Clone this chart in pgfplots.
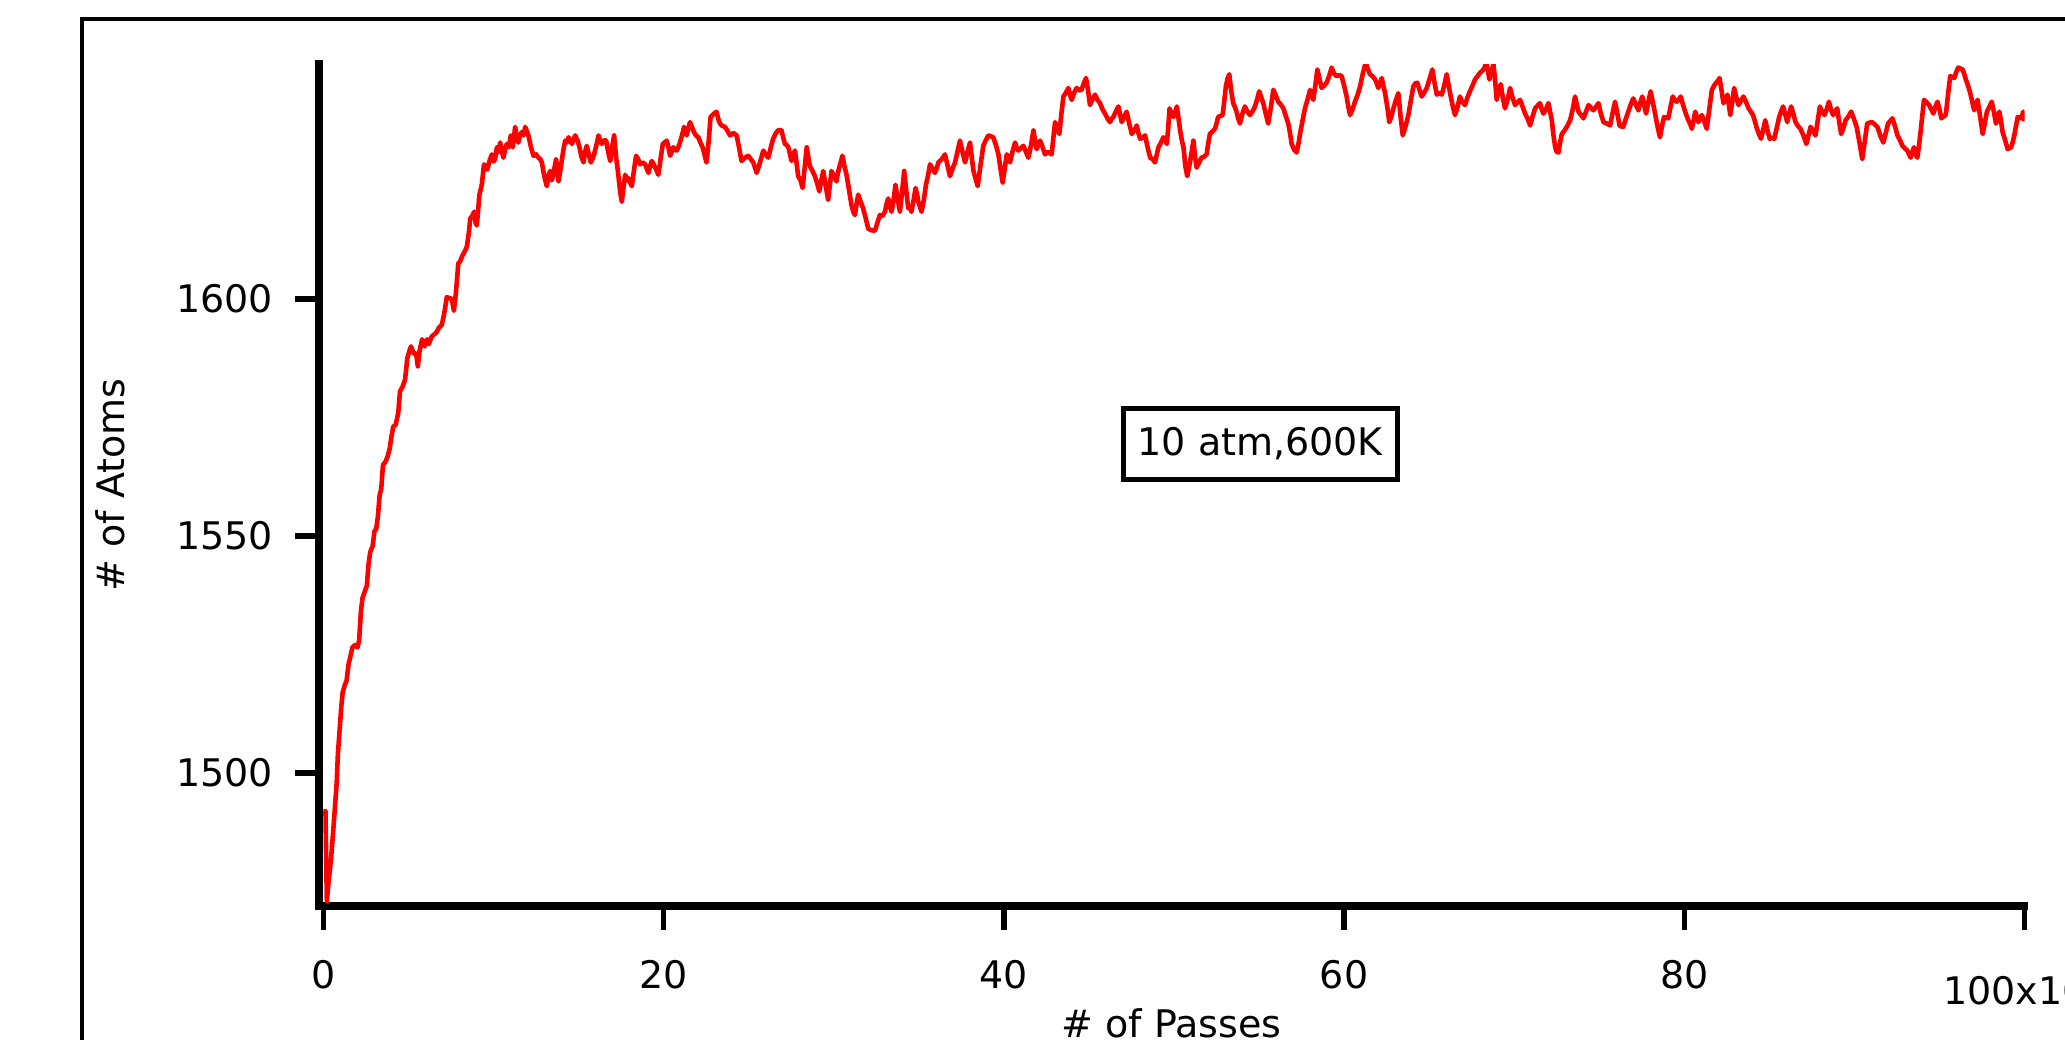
\documentclass[border=0pt]{standalone}
\usepackage{pgfplots}
\pgfplotsset{compat=1.18}
\usepackage{fontspec}
\setmainfont{DejaVu Sans}
\begin{document}
\fontsize{9.5}{11.4}\selectfont
\begin{tikzpicture}
\draw[line width=1pt] (20.43pt,255pt) rectangle (600pt,-40pt);
\begin{axis}[
  at={(79.75pt,33.28pt)}, anchor=south west,
  scale only axis, width=426.375pt, height=210.4pt,
  xmin=-0.26, xmax=100, ymin=1472, ymax=1649.5,
  axis x line*=bottom, axis y line*=left,
  axis line style={-, line width=1.9pt, line cap=rect, black},
  tick align=outside, major tick length=6pt,
  tick style={line width=1.4pt, black},
  xtick={0,20,40,60,80,100},
  xticklabels={0,20,40,60,80,{\raisebox{-4pt}[6.93pt][0pt]{100x10\textsuperscript{3}}}},
  ytick={1500,1550,1600},
  minor tick num=0,
  /pgf/number format/assume math mode=true,
  /pgf/number format/1000 sep={},
  xticklabel shift=4.3pt, yticklabel shift=2.1pt,
  xlabel={\# of Passes}, ylabel={\# of Atoms},
  xlabel style={at={(axis description cs:0.5,0)}, anchor=base, yshift=-33pt},
  ylabel style={at={(axis description cs:-0.1225,0.5)}, anchor=center},
  clip=true,
]
\addplot[red, line width=1.15pt, line join=round, mark=none] table[row sep=\\] {
x y\\
0 1492\\ 0.12 1492\\ 0.2 1473\\ 0.3 1477\\ 0.45 1482\\ 0.6 1489\\ 0.7 1494\\ 0.78 1498\\ 0.85 1504\\ 0.95 1509\\
1.05 1514\\ 1.13 1517\\ 1.25 1518.5\\ 1.36 1519.5\\ 1.48 1523\\ 1.58 1524.5\\ 1.7 1526.5\\ 1.85 1527\\ 2.0 1526.5\\ 2.1 1528\\
2.2 1534\\ 2.3 1537\\ 2.45 1538.5\\ 2.55 1539.5\\ 2.65 1544\\ 2.75 1546.6\\ 2.9 1548\\ 3.0 1551\\ 3.1 1551.5\\ 3.2 1554\\
3.3 1558.5\\ 3.4 1560\\ 3.5 1565\\ 3.62 1565.5\\ 3.75 1566.5\\ 3.9 1568.5\\ 4.0 1571\\ 4.1 1573\\ 4.25 1573.5\\ 4.4 1576\\
4.5 1580.5\\ 4.65 1581.5\\ 4.8 1583\\ 4.93 1587.5\\ 5.05 1589\\ 5.15 1590\\ 5.3 1588.5\\ 5.45 1588.5\\ 5.55 1585.8\\ 5.65 1589\\
5.8 1591.5\\ 5.95 1590\\ 6.1 1591.5\\ 6.2 1590.5\\ 6.35 1592\\ 6.5 1592.5\\ 6.65 1593\\ 6.8 1594\\ 6.95 1594.5\\ 7.05 1596\\
7.15 1598\\ 7.25 1600.4\\ 7.4 1600.2\\ 7.55 1600\\ 7.67 1597.5\\ 7.78 1601\\ 7.93 1607.5\\ 8.05 1608\\ 8.15 1609\\ 8.3 1610\\
8.43 1611\\ 8.55 1614\\ 8.63 1617\\ 8.75 1617.5\\ 8.86 1618.4\\ 8.95 1616\\ 9.02 1615.5\\ 9.1 1619\\ 9.17 1622\\ 9.31 1624.1\\
9.44 1628.4\\ 9.54 1627.5\\ 9.64 1627.3\\ 9.75 1629\\ 9.9 1630.5\\ 10.0 1629\\ 10.09 1629.5\\ 10.2 1632\\ 10.3 1631\\ 10.39 1633\\
10.5 1631\\ 10.58 1629.8\\ 10.68 1631.5\\ 10.78 1632.7\\ 10.9 1632\\ 11.01 1634.5\\ 11.13 1632\\ 11.2 1634\\ 11.27 1636.3\\ 11.37 1634\\
11.46 1633\\ 11.56 1634.5\\ 11.66 1635.2\\ 11.76 1634.5\\ 11.86 1636.3\\ 11.95 1635.5\\ 12.05 1634.5\\ 12.2 1632\\ 12.35 1630.2\\ 12.5 1630.5\\
12.64 1629.8\\ 12.75 1629.5\\ 12.84 1628.8\\ 12.95 1626.5\\ 13.03 1625.2\\ 13.13 1623.8\\ 13.23 1626\\ 13.33 1627\\ 13.42 1625\\ 13.52 1626.2\\
13.6 1628\\ 13.68 1629.5\\ 13.75 1627\\ 13.82 1624.8\\ 13.92 1627\\ 14.01 1629.1\\ 14.11 1631.5\\ 14.21 1633.4\\ 14.31 1633\\ 14.41 1634.1\\
14.5 1633.5\\ 14.6 1632.7\\ 14.7 1633.5\\ 14.8 1634.5\\ 14.93 1633.5\\ 15.05 1632\\ 15.17 1630\\ 15.29 1628.8\\ 15.38 1631\\ 15.48 1632.3\\
15.6 1630.5\\ 15.72 1628.8\\ 15.81 1629.5\\ 15.91 1630.5\\ 16.05 1632.5\\ 16.17 1634.5\\ 16.27 1633.5\\ 16.36 1632.7\\ 16.5 1633.5\\ 16.62 1633.4\\
16.74 1631\\ 16.86 1629.1\\ 16.97 1632\\ 17.09 1634.5\\ 17.2 1630\\ 17.31 1627\\ 17.44 1622.7\\ 17.54 1620.5\\ 17.64 1623.5\\ 17.74 1626.2\\
17.84 1625\\ 17.93 1625.5\\ 18.03 1624.5\\ 18.13 1623.8\\ 18.25 1627\\ 18.38 1630.2\\ 18.5 1629.5\\ 18.62 1628.4\\ 18.77 1628.8\\ 18.91 1628.4\\
19.01 1627.5\\ 19.11 1626.6\\ 19.2 1628\\ 19.3 1629.1\\ 19.4 1628.5\\ 19.5 1627.7\\ 19.6 1627\\ 19.69 1626.2\\ 19.82 1629.5\\ 19.95 1632.7\\
20.06 1633\\ 20.18 1633.4\\ 20.28 1632\\ 20.38 1630.2\\ 20.47 1631\\ 20.57 1632\\ 20.67 1631.5\\ 20.77 1631.3\\ 20.86 1632\\ 20.96 1633\\
21.08 1634.5\\ 21.2 1636.3\\ 21.28 1635.5\\ 21.35 1634.5\\ 21.45 1636\\ 21.55 1637.3\\ 21.66 1636.3\\ 21.78 1635.2\\ 21.9 1634.5\\ 22.04 1634.1\\
22.16 1633\\ 22.29 1632\\ 22.4 1630.5\\ 22.52 1628.8\\ 22.64 1633\\ 22.76 1638.4\\ 22.93 1639\\ 23.11 1639.5\\ 23.21 1638\\ 23.31 1637\\
23.45 1636.5\\ 23.6 1636.3\\ 23.75 1635.5\\ 23.9 1634.5\\ 24.1 1635\\ 24.29 1634.5\\ 24.43 1632\\ 24.58 1629.1\\ 24.78 1629.8\\ 24.98 1630.2\\
25.12 1629.5\\ 25.27 1628.8\\ 25.47 1626.6\\ 25.6 1628\\ 25.86 1631.3\\ 26.0 1630.5\\ 26.15 1629.8\\ 26.3 1632\\ 26.44 1633.8\\ 26.6 1635\\
26.74 1635.6\\ 26.93 1635.6\\ 27.03 1634\\ 27.13 1632.7\\ 27.23 1632.5\\ 27.33 1632\\ 27.43 1630.5\\ 27.52 1629.1\\ 27.62 1630.5\\ 27.72 1631.3\\
27.82 1628.5\\ 27.91 1625.9\\ 28.05 1625\\ 28.17 1623.4\\ 28.3 1628\\ 28.41 1632\\ 28.5 1630\\ 28.6 1628\\ 28.75 1627\\ 28.89 1625.9\\
29.02 1624.5\\ 29.15 1622.7\\ 29.27 1625\\ 29.38 1627\\ 29.52 1624\\ 29.67 1620.9\\ 29.77 1624\\ 29.87 1627\\ 30.0 1626\\ 30.16 1624.8\\
30.24 1626.5\\ 30.32 1627.7\\ 30.42 1629\\ 30.51 1630.2\\ 30.63 1628\\ 30.75 1626.2\\ 30.9 1623\\ 31.04 1619.8\\ 31.14 1618.5\\ 31.24 1617.7\\
31.34 1620\\ 31.44 1622\\ 31.58 1620.5\\ 31.73 1619.1\\ 31.88 1617\\ 32.03 1614.8\\ 32.2 1614.5\\ 32.42 1614.4\\ 32.56 1616\\ 32.71 1617.7\\
32.86 1617.5\\ 33.01 1618.4\\ 33.1 1620\\ 33.2 1621.2\\ 33.3 1619.5\\ 33.4 1618.4\\ 33.52 1621\\ 33.63 1624.1\\ 33.76 1621\\ 33.89 1618.4\\
34.0 1622\\ 34.14 1627\\ 34.26 1623\\ 34.38 1619.1\\ 34.47 1619.5\\ 34.57 1618.4\\ 34.7 1621\\ 34.81 1623.4\\ 34.9 1622\\ 34.97 1620.5\\
35.06 1619.5\\ 35.16 1618.4\\ 35.3 1621\\ 35.42 1624.1\\ 35.54 1626\\ 35.66 1628.4\\ 35.8 1627.5\\ 35.95 1626.6\\ 36.05 1627.5\\ 36.15 1628.8\\
36.35 1629.5\\ 36.54 1630.5\\ 36.7 1628\\ 36.83 1625.9\\ 36.98 1627.5\\ 37.13 1628.8\\ 37.27 1631\\ 37.42 1633.4\\ 37.57 1631\\ 37.72 1628.8\\
37.86 1631\\ 38.01 1633\\ 38.11 1630\\ 38.21 1627\\ 38.33 1625.5\\ 38.46 1623.8\\ 38.62 1628\\ 38.79 1632.3\\ 38.94 1633.5\\ 39.09 1634.5\\
39.24 1634.3\\ 39.38 1634.1\\ 39.53 1632.5\\ 39.68 1630.5\\ 39.8 1627.5\\ 39.93 1624.5\\ 40.05 1627.5\\ 40.17 1630.5\\ 40.27 1629.5\\ 40.36 1628.8\\
40.5 1631\\ 40.66 1633\\ 40.75 1632\\ 40.85 1631.3\\ 41.0 1631.8\\ 41.15 1632.3\\ 41.3 1631\\ 41.44 1629.8\\ 41.6 1632.5\\ 41.74 1635.6\\
41.83 1633.5\\ 41.93 1631.6\\ 42.03 1632.5\\ 42.13 1633.4\\ 42.28 1632\\ 42.42 1630.5\\ 42.6 1631\\ 42.81 1630.5\\ 42.91 1634\\ 43.01 1637.3\\
43.14 1636\\ 43.26 1634.8\\ 43.38 1639\\ 43.5 1642.7\\ 43.65 1643.5\\ 43.79 1644.5\\ 43.89 1643\\ 43.99 1642\\ 44.13 1643.5\\ 44.28 1644.5\\
44.43 1644\\ 44.57 1644.1\\ 44.7 1645.5\\ 44.83 1646.6\\ 44.95 1644\\ 45.06 1640.9\\ 45.2 1642\\ 45.36 1643.1\\ 45.5 1642\\ 45.65 1641.3\\
45.8 1640\\ 45.95 1639.1\\ 46.1 1638\\ 46.24 1637.3\\ 46.34 1638\\ 46.44 1638.4\\ 46.58 1639.5\\ 46.73 1640.6\\ 46.83 1639\\ 46.93 1637.3\\
47.08 1638.5\\ 47.22 1639.5\\ 47.37 1637\\ 47.52 1634.8\\ 47.66 1635.5\\ 47.81 1636.6\\ 47.91 1635\\ 48.01 1633.8\\ 48.15 1634\\ 48.3 1634.5\\
48.45 1632\\ 48.6 1629.8\\ 48.75 1629.5\\ 48.89 1628.8\\ 48.99 1630.5\\ 49.09 1632\\ 49.24 1633\\ 49.38 1634.1\\ 49.48 1633.5\\ 49.58 1632.7\\
49.66 1636\\ 49.74 1640.2\\ 49.86 1639\\ 49.97 1638.4\\ 50.07 1639.5\\ 50.17 1640.6\\ 50.27 1638\\ 50.36 1635.6\\ 50.46 1633.5\\ 50.56 1632\\
50.67 1628\\ 50.78 1625.9\\ 50.95 1629\\ 51.04 1631\\ 51.14 1633.4\\ 51.24 1630\\ 51.33 1627.7\\ 51.48 1628.8\\ 51.62 1629.8\\ 51.77 1630\\
51.92 1630.5\\ 52.0 1632.5\\ 52.11 1634.8\\ 52.26 1635.3\\ 52.41 1635.9\\ 52.5 1637\\ 52.6 1638.4\\ 52.73 1638.6\\ 52.86 1638.8\\ 52.95 1641.5\\
53.05 1644.8\\ 53.15 1646.5\\ 53.25 1647.4\\ 53.36 1644\\ 53.48 1641.3\\ 53.58 1640.5\\ 53.68 1639.5\\ 53.78 1638\\ 53.88 1637\\ 54.02 1639\\
54.17 1640.6\\ 54.32 1639.5\\ 54.47 1638.8\\ 54.61 1639.5\\ 54.76 1640.6\\ 54.88 1642\\ 55.01 1643.8\\ 55.13 1642.5\\ 55.25 1641.3\\ 55.4 1639\\
55.54 1637\\ 55.7 1640.5\\ 55.84 1644.1\\ 55.98 1643\\ 56.13 1641.6\\ 56.28 1641\\ 56.43 1640.2\\ 56.58 1638.5\\ 56.72 1637\\ 56.82 1635\\
56.92 1632.7\\ 57.06 1631.5\\ 57.21 1630.9\\ 57.33 1633\\ 57.45 1635.6\\ 57.58 1638\\ 57.7 1640.2\\ 57.85 1642\\ 58.0 1644.1\\ 58.1 1643\\
58.19 1642\\ 58.31 1645\\ 58.43 1648.4\\ 58.55 1646.5\\ 58.68 1644.5\\ 58.83 1645\\ 58.97 1645.6\\ 59.12 1647\\ 59.27 1648.8\\ 59.41 1647.5\\
59.56 1647\\ 59.71 1647.2\\ 59.86 1647\\ 60.0 1645\\ 60.15 1642.7\\ 60.25 1640.5\\ 60.35 1638.8\\ 60.5 1640\\ 60.64 1641.6\\ 60.79 1643\\
60.94 1644.8\\ 61.1 1647.5\\ 61.27 1649.9\\ 61.4 1648.5\\ 61.52 1647.4\\ 61.67 1647\\ 61.82 1646.3\\ 61.92 1645.5\\ 62.01 1644.5\\ 62.11 1645.5\\
62.21 1646.6\\ 62.31 1645\\ 62.41 1643.4\\ 62.54 1640.5\\ 62.66 1637.3\\ 62.78 1638.5\\ 62.9 1640.2\\ 63.05 1642\\ 63.19 1643.4\\ 63.32 1638.5\\
63.45 1634.5\\ 63.62 1636.5\\ 63.78 1638.8\\ 63.93 1642\\ 64.07 1644.8\\ 64.19 1645.5\\ 64.31 1645.6\\ 64.44 1644\\ 64.56 1642.7\\ 64.71 1643.5\\
64.86 1644.5\\ 65.03 1646.5\\ 65.19 1648.4\\ 65.32 1645.5\\ 65.45 1643.1\\ 65.6 1643.5\\ 65.74 1643.1\\ 65.89 1645\\ 66.03 1647.4\\ 66.15 1645\\
66.27 1642.7\\ 66.4 1640.5\\ 66.52 1638.8\\ 66.67 1640.5\\ 66.81 1642.7\\ 66.96 1641.5\\ 67.11 1640.9\\ 67.25 1642.5\\ 67.4 1643.8\\ 67.55 1645\\
67.7 1646.3\\ 67.85 1647\\ 67.99 1647.7\\ 68.09 1648\\ 68.19 1648.4\\ 68.28 1649\\ 68.38 1649.9\\ 68.46 1648\\ 68.54 1646.3\\ 68.66 1648\\
68.78 1649.5\\ 68.88 1646\\ 68.97 1642\\ 69.09 1644\\ 69.21 1645.3\\ 69.33 1642.5\\ 69.46 1640.2\\ 69.61 1642\\ 69.76 1644.5\\ 69.9 1642.5\\
70.05 1640.9\\ 70.2 1641.5\\ 70.35 1642\\ 70.5 1640.5\\ 70.64 1639.1\\ 70.79 1638\\ 70.94 1636.6\\ 71.08 1638.5\\ 71.23 1640.2\\ 71.38 1640.8\\
71.52 1641.3\\ 71.62 1640\\ 71.72 1639.1\\ 71.87 1640\\ 72.01 1641.3\\ 72.11 1639.5\\ 72.21 1637.7\\ 72.31 1634.5\\ 72.41 1632\\ 72.5 1631\\
72.6 1630.9\\ 72.7 1633\\ 72.8 1634.8\\ 72.95 1635.5\\ 73.09 1636.3\\ 73.19 1637\\ 73.29 1637.7\\ 73.44 1640\\ 73.58 1642.7\\ 73.68 1641\\
73.78 1639.5\\ 73.93 1638.8\\ 74.07 1638.1\\ 74.22 1639.5\\ 74.37 1640.9\\ 74.52 1640.3\\ 74.66 1639.8\\ 74.81 1640.5\\ 74.95 1641.3\\ 75.1 1639\\
75.25 1637.3\\ 75.45 1637\\ 75.64 1636.6\\ 75.8 1639.5\\ 75.93 1641.6\\ 76.07 1639\\ 76.2 1636.5\\ 76.41 1636.3\\ 76.56 1638\\ 76.71 1639.5\\
76.85 1641\\ 77.0 1642.3\\ 77.15 1641\\ 77.3 1639.8\\ 77.42 1641.5\\ 77.53 1642.7\\ 77.64 1641\\ 77.75 1639.1\\ 77.88 1641.5\\ 78.02 1643.8\\
78.15 1641.5\\ 78.28 1639.1\\ 78.42 1636.5\\ 78.57 1634.1\\ 78.69 1636.5\\ 78.81 1638.4\\ 78.94 1638.2\\ 79.06 1638.1\\ 79.19 1640.5\\ 79.32 1642.7\\
79.43 1642\\ 79.55 1641.6\\ 79.67 1642\\ 79.79 1642.7\\ 79.92 1641\\ 80.05 1639.5\\ 80.15 1638.5\\ 80.24 1637.7\\ 80.34 1637\\ 80.44 1635.9\\
80.54 1637.5\\ 80.64 1639.5\\ 80.74 1638.5\\ 80.83 1637.3\\ 80.93 1638\\ 81.03 1638.8\\ 81.17 1637.5\\ 81.32 1635.9\\ 81.47 1640\\ 81.62 1644.1\\
81.75 1645\\ 81.87 1645.6\\ 81.97 1646\\ 82.07 1646.6\\ 82.19 1644\\ 82.3 1641.3\\ 82.42 1642\\ 82.54 1643.1\\ 82.62 1641\\ 82.7 1638.8\\
82.82 1641.5\\ 82.93 1644.5\\ 83.06 1642.5\\ 83.19 1640.9\\ 83.33 1641.8\\ 83.48 1642.7\\ 83.63 1641.5\\ 83.78 1640.2\\ 83.91 1639.5\\ 84.04 1638.8\\
84.15 1637.5\\ 84.27 1635.9\\ 84.39 1634.8\\ 84.51 1633.8\\ 84.63 1635.5\\ 84.76 1637.7\\ 84.89 1635.5\\ 85.02 1633.8\\ 85.15 1634\\ 85.29 1633.8\\
85.43 1636\\ 85.56 1638.1\\ 85.68 1639.5\\ 85.81 1640.6\\ 85.93 1639\\ 86.05 1637.3\\ 86.16 1639\\ 86.28 1640.6\\ 86.41 1639\\ 86.54 1637.3\\
86.68 1636.5\\ 86.83 1635.9\\ 87.0 1634.5\\ 87.18 1632.7\\ 87.3 1634.5\\ 87.42 1636.3\\ 87.56 1635.5\\ 87.71 1634.5\\ 87.84 1637.5\\ 87.97 1640.6\\
88.1 1639.5\\ 88.24 1638.8\\ 88.37 1640\\ 88.5 1641.6\\ 88.62 1640\\ 88.75 1638.8\\ 88.87 1639.5\\ 88.99 1640.2\\ 89.1 1637.5\\ 89.22 1634.8\\
89.35 1636\\ 89.48 1637.7\\ 89.65 1638.5\\ 89.81 1639.5\\ 89.97 1638\\ 90.13 1636.3\\ 90.3 1633\\ 90.46 1629.5\\ 90.6 1633\\ 90.75 1637\\
90.9 1637.2\\ 91.05 1637.3\\ 91.2 1636.8\\ 91.35 1636.3\\ 91.52 1634.5\\ 91.7 1633\\ 91.84 1635\\ 91.98 1637\\ 92.1 1637.5\\ 92.23 1638.1\\
92.38 1636.5\\ 92.53 1634.5\\ 92.68 1633.5\\ 92.82 1632.3\\ 92.96 1631.8\\ 93.11 1631.3\\ 93.21 1630.5\\ 93.31 1629.8\\ 93.4 1631\\ 93.5 1632\\
93.6 1630.5\\ 93.7 1629.8\\ 93.8 1632.5\\ 93.9 1635.6\\ 94.0 1639\\ 94.09 1642\\ 94.24 1641.5\\ 94.39 1640.9\\ 94.52 1640\\ 94.64 1639.1\\
94.76 1640.5\\ 94.88 1641.6\\ 95.0 1640\\ 95.11 1638.1\\ 95.24 1638.5\\ 95.37 1638.8\\ 95.5 1643\\ 95.63 1647\\ 95.75 1646.8\\ 95.87 1646.6\\
95.98 1647.8\\ 96.1 1648.8\\ 96.23 1648.6\\ 96.36 1648.4\\ 96.45 1647.5\\ 96.55 1646.3\\ 96.68 1645\\ 96.81 1643.4\\ 96.93 1641.5\\ 97.04 1639.8\\
97.14 1641\\ 97.24 1642\\ 97.39 1638.5\\ 97.54 1634.8\\ 97.66 1637\\ 97.79 1639.5\\ 97.93 1640.5\\ 98.07 1641.6\\ 98.2 1639.5\\ 98.32 1637\\
98.42 1638\\ 98.52 1639.5\\ 98.62 1637.5\\ 98.71 1635.2\\ 98.86 1633.5\\ 99.01 1631.6\\ 99.11 1631.8\\ 99.21 1632\\ 99.3 1633\\ 99.4 1634.5\\
99.5 1636.5\\ 99.6 1638.4\\ 99.72 1638.2\\ 99.83 1638.1\\ 99.92 1639.5\\ 100.0 1637.5\\
};
\node[draw, black, line width=1.25pt, fill=white, minimum width=68.5pt, minimum height=17.75pt, inner sep=0pt] at (axis cs:55.08,1569.5) {10 atm,600K};
\end{axis}
\pgfresetboundingbox
\useasboundingbox (0,0) rectangle (516.25pt,259.75pt);
\end{tikzpicture}
\end{document}
